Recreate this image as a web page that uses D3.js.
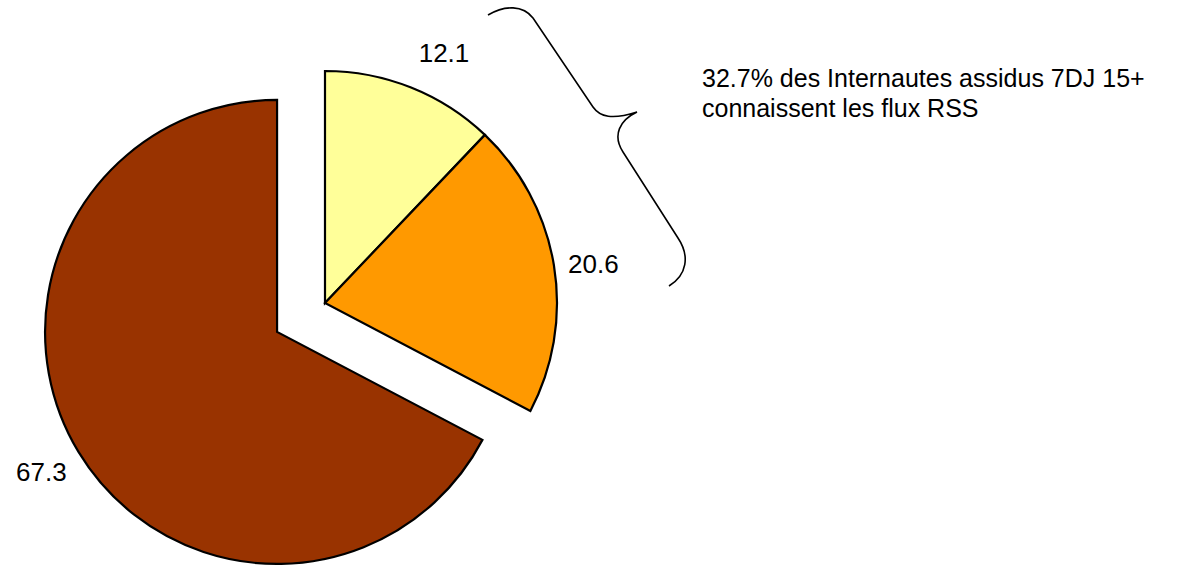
<!DOCTYPE html>
<html><head><meta charset="utf-8">
<script src="https://cdn.jsdelivr.net/npm/d3@7"></script>
<style>html,body{margin:0;padding:0;background:#fff;}svg{display:block;}</style>
</head><body>
<svg id="chart" width="1182" height="568"></svg>
<script>
const categories = ["Connaissent et utilisent", "Connaissent sans utiliser", "Ne connaissent pas"];
const values = [12.1, 20.6, 67.3];
const labels = ["12.1", "20.6", "67.3"];
const colors = ["#FFFF99", "#FF9900", "#993300"];
const exploded = [false, false, true];
const annotationLines = ["32.7% des Internautes assidus 7DJ 15+", "connaissent les flux RSS"];

const svg = d3.select("#chart");
const cx = 325, cy = 303, R = 232, explode = 56;
const font = "'Liberation Sans', Arial, sans-serif";

const pie = d3.pie().sort(null).value(d => d)(values);
const arc = d3.arc().innerRadius(0).outerRadius(R);

const g = svg.append("g").attr("transform", `translate(${cx},${cy})`);
pie.forEach((p, i) => {
  const mid = (p.startAngle + p.endAngle) / 2;
  const dx = exploded[i] ? Math.sin(mid) * explode : 0;
  const dy = exploded[i] ? -Math.cos(mid) * explode : 0;
  g.append("path")
    .attr("d", arc(p))
    .attr("transform", `translate(${dx},${dy})`)
    .attr("fill", colors[i])
    .attr("stroke", "#000")
    .attr("stroke-width", 2.2)
    .attr("stroke-linejoin", "miter");
});

// value labels
const labelPos = [
  {x: 444, y: 62, anchor: "middle"},
  {x: 568, y: 273, anchor: "start"},
  {x: 16, y: 481, anchor: "start"}
];
labels.forEach((t, i) => {
  svg.append("text").attr("x", labelPos[i].x).attr("y", labelPos[i].y)
    .attr("text-anchor", labelPos[i].anchor)
    .attr("font-family", font).attr("font-size", 26).attr("fill", "#000").text(t);
});

// brace
svg.append("path")
  .attr("d", "M488,15 C505,5 523,5 533,18 L593,107 C600,117 612,120 637,112 C620,120 612,135 623,152 L678,238 C690,256 687,275 669,286")
  .attr("fill", "none").attr("stroke", "#000").attr("stroke-width", 1.6);

const ann = svg.append("text").attr("font-family", font).attr("font-size", 25).attr("fill", "#000");
annotationLines.forEach((t, i) => {
  ann.append("tspan").attr("x", 702).attr("y", 87 + i * 30).text(t);
});
</script>
</body></html>
